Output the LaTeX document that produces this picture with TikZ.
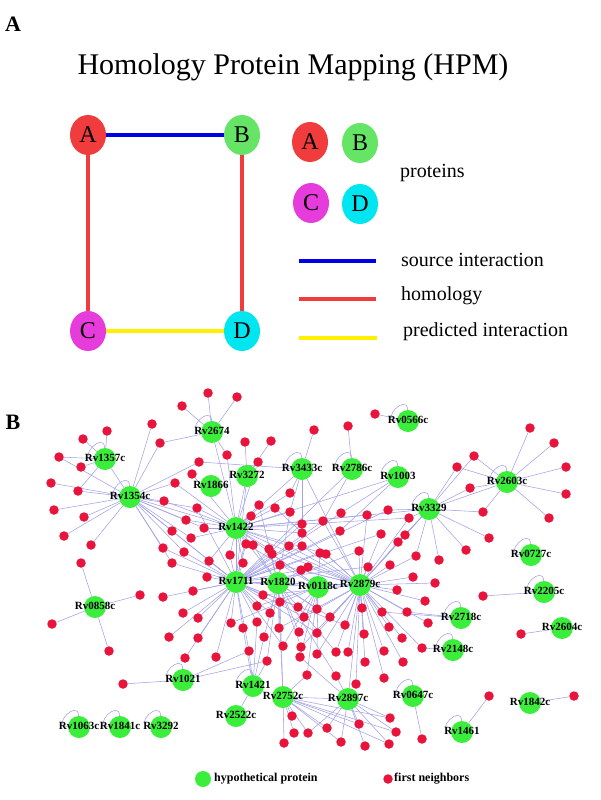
\documentclass[tikz,border=0pt]{standalone}
\usepackage{fontspec}
\setmainfont{Liberation Serif}
\usetikzlibrary{shapes.geometric}
\pgfdeclarelayer{bg}
\pgfsetlayers{bg,main}
\definecolor{pred}{RGB}{240,60,60}
\definecolor{pgreen}{RGB}{102,228,102}
\definecolor{pmag}{RGB}{230,60,220}
\definecolor{pcyan}{RGB}{0,230,240}
\definecolor{pblue}{RGB}{0,0,230}
\definecolor{pyellow}{RGB}{255,240,0}
\definecolor{hypgreen}{RGB}{60,238,60}
\definecolor{nbrred}{RGB}{232,20,60}
\definecolor{edgec}{RGB}{162,162,232}
\begin{document}
\begin{tikzpicture}[x=1pt,y=-1pt,
    prot/.style={ellipse, minimum width=36pt, minimum height=40pt, inner sep=0pt, font=\fontsize{24}{24}\selectfont},
    link/.style={line width=4.5pt},
    hyp/.style={circle, fill=hypgreen, minimum size=22pt, inner sep=0pt},
    nbr/.style={circle, fill=nbrred, minimum size=9.5pt, inner sep=0pt},
    edge/.style={draw=edgec, line width=0.55pt},
    selfloop/.style={edge, loop, out=92, in=178, min distance=17pt},
    hlabel/.style={font=\bfseries\fontsize{11}{11}\selectfont, inner sep=0pt},
    legtext/.style={anchor=west, font=\fontsize{20}{20}\selectfont, inner sep=0pt}]
\useasboundingbox (0,0) rectangle (600,800);

% panel A: homology protein mapping
\node[font=\bfseries\fontsize{22}{22}\selectfont] (panA) at (13,24) {A};
\node[font=\fontsize{30}{30}\selectfont] (title) at (293,67) {Homology Protein Mapping (HPM)};
\node[prot, fill=pred] (A) at (88,135) {A};
\node[prot, fill=pgreen] (B) at (242,135) {B};
\node[prot, fill=pmag] (C) at (88,331) {C};
\node[prot, fill=pcyan] (D) at (242,331) {D};
\draw[link, pblue] (A) -- (B);
\draw[link, pred] (A) -- (C);
\draw[link, pred] (B) -- (D);
\draw[link, pyellow] (C) -- (D);

% legend of panel A
\node[prot, fill=pred] (lA) at (310,142) {A};
\node[prot, fill=pgreen] (lB) at (360,143) {B};
\node[prot, fill=pmag] (lC) at (311,203) {C};
\node[prot, fill=pcyan] (lD) at (360,204) {D};
\node[legtext] (proteins) at (400,173) {proteins};
\coordinate (srcL) at (299,261); \coordinate (srcR) at (376,261);
\coordinate (homL) at (299,299); \coordinate (homR) at (376,299);
\coordinate (preL) at (299,338); \coordinate (preR) at (377,338);
\draw[link, pblue] (srcL) -- (srcR);
\draw[link, pred] (homL) -- (homR);
\draw[link, pyellow] (preL) -- (preR);
\node[legtext] (srctext) at (401,260) {source interaction};
\node[legtext] (homtext) at (401,296) {homology};
\node[legtext] (pretext) at (403,332) {predicted interaction};

% panel B: network of hypothetical proteins
\node[font=\bfseries\fontsize{22}{22}\selectfont] (panB) at (13,422) {B};
\foreach \n/\x/\y in {Rv2674/212/432, Rv1357c/105/459, Rv1354c/130/497, Rv1866/211/486,
    Rv3272/247/476, Rv1422/236/528, Rv3433c/302/469, Rv0566c/408/421, Rv2786c/352/469,
    Rv1003/398/477, Rv3329/429/509, Rv2603c/507/482, Rv0727c/531/555, Rv1711/236/582,
    Rv1820/278/583, Rv0118c/318/587, Rv2879c/360/585, Rv0858c/95/607, Rv2205c/544/592,
    Rv2718c/461/618, Rv2604c/562/628, Rv2148c/453/650, Rv1021/183/680, Rv1421/253/686,
    Rv2522c/236/716, Rv2752c/283/697, Rv2897c/348/699, Rv0647c/413/696, Rv1461/462/732,
    Rv1842c/530/703, Rv1063c/79/727, Rv1841c/120/727, Rv3292/161/727}
  \node[hyp] (\n) at (\x,\y) {};

% first neighbors and their links
\foreach \x/\y/\hl [count=\i] in {
    208/393/Rv2674, 237/397/Rv2674, 182/406/Rv2674, 152/424/Rv1354c, 160/443/{Rv1354c,Rv2674},
    107/431/Rv1357c, 83/439/Rv1357c, 59/457/{Rv1357c,Rv1354c}, 81/467/Rv1357c, 51/483/Rv1354c,
    78/491/{Rv1357c,Rv1354c}, 54/510/Rv1354c, 84/517/Rv1354c, 64/536/Rv1354c, 91/545/Rv1354c,
    81/563/Rv0858c, 227/455/{Rv2674,Rv1422}, 245/442/Rv3272, 271/441/Rv3272, 199/462/{Rv1354c,Rv3433c},
    258/462/{Rv1422,Rv3272}, 192/474/Rv1422, 175/483/{Rv1354c,Rv1422}, 164/501/{Rv1354c,Rv1422},
    197/508/{Rv1354c,Rv1422,Rv1711}, 186/520/{Rv1354c,Rv1422}, 204/528/{Rv1422,Rv1354c},
    172/531/{Rv1354c,Rv1711}, 191/538/{Rv1354c,Rv1422}, 163/548/{Rv1354c,Rv1711},
    184/552/{Rv1354c,Rv1711}, 172/563/{Rv1354c,Rv1711}, 209/561/{Rv1422,Rv1711},
    259/505/{Rv1422,Rv1820}, 251/516/{Rv1422,Rv1711}, 275/508/{Rv1422,Rv2879c},
    290/493/{Rv1422,Rv3433c}, 290/512/{Rv1422,Rv3433c,Rv1820}, 246/544/{Rv1422,Rv1711,Rv0118c},
    253/545/{Rv1422,Rv1820}, 230/555/{Rv1422,Rv1711}, 243/563/{Rv1711,Rv1422},
    269/549/{Rv1422,Rv1820,Rv2879c}, 272/554/{Rv1711,Rv0118c}, 289/546/{Rv1422,Rv2879c},
    280/565/{Rv1711,Rv2879c,Rv1820}, 207/577/Rv1711,
    375/414/Rv0566c, 348/426/Rv2786c, 314/430/Rv3433c, 530/428/Rv2603c, 554/443/Rv2603c,
    566/467/Rv2603c, 566/494/Rv2603c, 549/518/Rv2603c, 474/456/{Rv3329,Rv2603c},
    457/467/{Rv3329,Rv2603c}, 470/488/{Rv3329,Rv2603c}, 483/512/{Rv3329,Rv2603c},
    489/538/Rv3329, 466/550/Rv3329, 439/560/Rv3329, 416/556/{Rv2879c,Rv3329},
    409/518/{Rv3329,Rv2879c,Rv1422}, 405/535/{Rv3329,Rv2879c}, 398/542/{Rv3329,Rv2879c},
    388/510/{Rv3329,Rv1711}, 381/534/{Rv2879c,Rv1711}, 367/515/{Rv2879c,Rv1422},
    341/513/{Rv1003,Rv1711}, 340/531/{Rv1003,Rv1711}, 323/521/{Rv2786c,Rv1711,Rv2879c},
    302/524/{Rv3433c,Rv1711}, 302/533/{Rv3433c,Rv1422}, 302/546/{Rv1711,Rv2879c},
    320/553/{Rv1711,Rv0118c}, 326/554/{Rv1422,Rv2879c}, 359/551/{Rv2879c,Rv1820},
    368/567/{Rv2879c,Rv1711}, 390/565/Rv2879c, 413/577/Rv2879c, 301/570/{Rv1711,Rv2879c},
    308/567/{Rv1820,Rv2879c},
    193/591/Rv1711, 263/595/{Rv1711,Rv2879c}, 280/602/{Rv1820,Rv2752c}, 257/606/{Rv1711,Rv0118c},
    270/613/{Rv1820,Rv1711}, 298/607/{Rv0118c,Rv1711}, 317/609/{Rv0118c,Rv1820},
    304/617/{Rv2879c,Rv1711}, 330/617/{Rv2879c,Rv1820}, 345/625/{Rv2879c,Rv1711},
    362/608/Rv2879c, 382/612/{Rv2879c,Rv2718c}, 397/590/Rv2879c, 407/612/{Rv2879c,Rv2718c},
    389/627/Rv2879c, 183/613/Rv1711, 198/618/Rv1711, 231/623/{Rv1711,Rv0118c},
    243/628/{Rv1711,Rv1421}, 257/622/{Rv1711,Rv1421}, 279/628/{Rv1820,Rv2879c},
    299/632/{Rv0118c,Rv1820}, 317/633/{Rv2879c,Rv1711}, 364/634/Rv2879c, 402/638/Rv2879c,
    198/638/Rv1711, 264/637/{Rv1820,Rv1421}, 283/646/{Rv0118c,Rv1711}, 301/647/{Rv2879c,Rv1820},
    317/654/{Rv0118c,Rv2879c}, 336/652/{Rv2879c,Rv1820}, 348/652/Rv2879c, 384/651/Rv2879c,
    422/648/{Rv2879c,Rv2148c}, 169/637/Rv1711, 185/658/Rv1711, 216/657/Rv1711,
    249/651/{Rv1711,Rv1021,Rv1421}, 267/661/{Rv1820,Rv1021,Rv1421}, 300/657/{Rv0118c,Rv2897c},
    365/662/Rv2879c, 403/662/Rv2879c, 384/678/Rv2879c, 356/684/Rv2879c,
    336/676/{Rv1820,Rv2897c}, 307/675/{Rv0118c,Rv2752c}, 140/595/Rv0858c, 163/597/Rv1711,
    52/624/Rv0858c, 109/651/Rv0858c, 123/684/Rv1021, 435/583/Rv2879c, 425/601/Rv2879c,
    428/623/Rv2879c, 483/596/Rv2205c, 521/634/Rv2604c, 489/696/Rv1461, 574/696/Rv1842c,
    422/739/Rv0647c, 292/716/Rv2752c, 294/733/Rv2752c, 284/743/Rv2752c,
    308/733/{Rv2752c,Rv2897c}, 327/728/{Rv2752c,Rv2897c}, 359/724/{Rv2752c,Rv2897c},
    341/742/{Rv2897c,Rv2752c}, 365/746/Rv2897c, 389/744/{Rv2897c,Rv2752c},
    390/718/{Rv2897c,Rv2752c}, 396/732/{Rv2897c,Rv2752c}}
{
  \node[nbr] (r\i) at (\x,\y) {};
  \begin{pgfonlayer}{bg}
    \foreach \h in \hl \draw[edge] (\h) -- (r\i);
  \end{pgfonlayer}
}

% links between hypothetical proteins, and self loops
\begin{pgfonlayer}{bg}
\foreach \a/\b in {Rv1357c/Rv1354c, Rv1354c/Rv1422, Rv1354c/Rv1711, Rv2674/Rv1422,
    Rv3272/Rv1422, Rv3272/Rv1711, Rv3433c/Rv1422, Rv3433c/Rv2879c, Rv1422/Rv1711,
    Rv1422/Rv1820, Rv1422/Rv0118c, Rv1422/Rv2879c, Rv1711/Rv1820, Rv1711/Rv0118c,
    Rv1820/Rv0118c, Rv0118c/Rv2879c, Rv1711/Rv2879c, Rv3329/Rv2879c, Rv3329/Rv2603c,
    Rv3329/Rv1422, Rv2752c/Rv2897c, Rv1421/Rv2522c, Rv2752c/Rv1820, Rv2897c/Rv2879c,
    Rv1003/Rv1422, Rv2786c/Rv1711}
  \draw[edge] (\a) -- (\b);
\foreach \n in {Rv2674, Rv1357c, Rv1354c, Rv3433c, Rv0566c, Rv2786c, Rv1003, Rv3329,
    Rv2603c, Rv0727c, Rv2205c, Rv2718c, Rv2148c, Rv0647c, Rv1461, Rv1021, Rv1421,
    Rv1063c, Rv1841c, Rv3292}
  \path (\n) edge[selfloop] (\n);
\end{pgfonlayer}

% protein names on top
\foreach \n in {Rv2674, Rv1357c, Rv1354c, Rv1866, Rv3272, Rv1422, Rv3433c, Rv0566c,
    Rv2786c, Rv1003, Rv3329, Rv2603c, Rv0727c, Rv1711, Rv1820, Rv0118c, Rv2879c, Rv0858c,
    Rv2205c, Rv2718c, Rv2604c, Rv2148c, Rv1021, Rv1421, Rv2522c, Rv2752c, Rv2897c,
    Rv0647c, Rv1461, Rv1842c, Rv1063c, Rv1841c, Rv3292}
  \node[hlabel] (t\n) at ([yshift=1pt]\n) {\n};

% legend of panel B
\node[hyp, minimum size=16pt] (leghyp) at (203,779) {};
\node[anchor=west, font=\bfseries\fontsize{12}{12}\selectfont, inner sep=0pt] (leghyptext) at (214,779) {hypothetical protein};
\node[nbr] (legnbr) at (388,779) {};
\node[anchor=west, font=\bfseries\fontsize{12}{12}\selectfont, inner sep=0pt] (legnbrtext) at (394,779) {first neighbors};
\end{tikzpicture}
\end{document}
